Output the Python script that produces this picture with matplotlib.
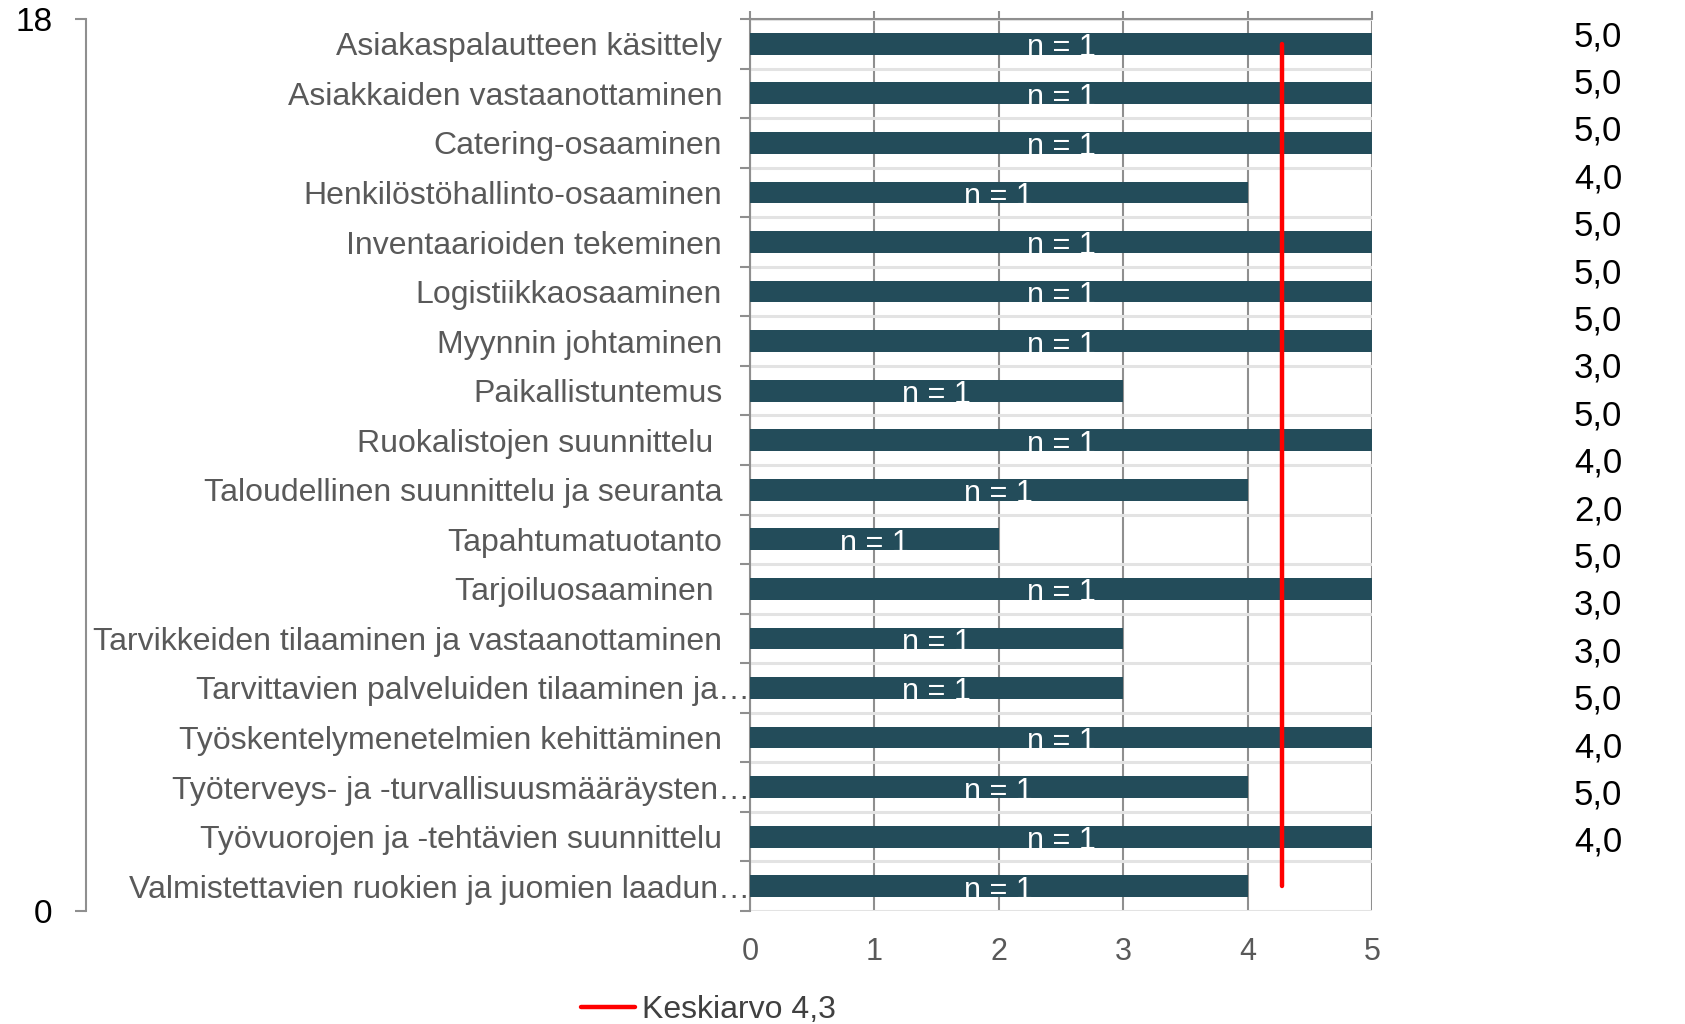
import matplotlib
matplotlib.use("Agg")
import matplotlib.pyplot as plt
import matplotlib.transforms as mtransforms
from matplotlib.ticker import MultipleLocator, FixedLocator

plt.rcParams["font.family"] = ["Liberation Sans", "DejaVu Sans"]

categories = [
    "Asiakaspalautteen käsittely",
    "Asiakkaiden vastaanottaminen",
    "Catering-osaaminen",
    "Henkilöstöhallinto-osaaminen",
    "Inventaarioiden tekeminen",
    "Logistiikkaosaaminen",
    "Myynnin johtaminen",
    "Paikallistuntemus",
    "Ruokalistojen suunnittelu ",
    "Taloudellinen suunnittelu ja seuranta",
    "Tapahtumatuotanto",
    "Tarjoiluosaaminen ",
    "Tarvikkeiden tilaaminen ja vastaanottaminen",
    "Tarvittavien palveluiden tilaaminen ja…",
    "Työskentelymenetelmien kehittäminen",
    "Työterveys- ja -turvallisuusmääräysten…",
    "Työvuorojen ja -tehtävien suunnittelu",
    "Valmistettavien ruokien ja juomien laadun…",
]
values = [5, 5, 5, 4, 5, 5, 5, 3, 5, 4, 2, 5, 3, 3, 5, 4, 5, 4]
counts = [1] * len(values)
mean_value = sum(values) / len(values)
side_axis_ticks = [0, 18]

bar_color = "#234c5a"
grid_dark = "#8f8f8f"
grid_light = "#e3e3e3"
text_gray = "#595959"

W, H = 1685, 1024
fig = plt.figure(figsize=(W / 100, H / 100), dpi=100)

# main bar chart, pixel box 750..1372 x 19..911
ax = fig.add_axes([750 / W, 1 - 911 / H, 622 / W, 892 / H])
n = len(categories)
pos = list(range(n))
ax.barh(pos, values, height=0.44, color=bar_color, zorder=3)
ax.set_xlim(0, 5)
ax.set_ylim(n - 0.5, -0.5)

for y, v, c in zip(pos, values, counts):
    ax.text(v / 2, y + 0.25, f"n = {c}", color="white", fontsize=22,
            ha="center", va="baseline", zorder=4)

ax.plot([mean_value, mean_value], [pos[0], pos[-1]], color="#ff0000",
        lw=3.2, zorder=5, solid_capstyle="round",
        label=f"Keskiarvo {mean_value:.1f}".replace(".", ","))

ax.xaxis.set_major_locator(MultipleLocator(1))
ax.tick_params(axis="x", top=True, bottom=False, labelbottom=True,
               length=6, width=1.5, color=grid_dark, labelsize=22,
               labelcolor=text_gray, pad=12.5)
ax.grid(axis="x", color=grid_dark, lw=1.5, zorder=1)

ax.set_yticks(pos)
ax.set_yticklabels(categories)
ax.yaxis.set_minor_locator(FixedLocator([p + 0.5 for p in range(-1, n)]))
ax.tick_params(axis="y", which="major", length=0, labelsize=23,
               labelcolor=text_gray, pad=20)
ax.tick_params(axis="y", which="minor", length=7, width=1.5, color=grid_dark)
ax.grid(axis="y", which="minor", color=grid_light, lw=2.2, zorder=1)

shift = mtransforms.ScaledTranslation(20 / 72, 0, fig.dpi_scale_trans)
for lab in ax.get_yticklabels():
    if lab.get_text().endswith("…"):
        lab.set_transform(lab.get_transform() + shift)

for s in ["right", "bottom"]:
    ax.spines[s].set_visible(False)
for s in ["top", "left"]:
    ax.spines[s].set_color(grid_dark)
    ax.spines[s].set_linewidth(1.5)

# side axis 0..18 on the far left
ax2 = fig.add_axes([86 / W, 1 - 911 / H, 0.001, 892 / H])
ax2.set_ylim(0, 18)
ax2.set_yticks(side_axis_ticks)
ax2.tick_params(axis="y", length=8, width=1.5, color=grid_dark,
                labelsize=24, labelcolor="black", pad=16)
ax2.set_xticks([])
for s in ["right", "bottom", "top"]:
    ax2.spines[s].set_visible(False)
ax2.spines["left"].set_color(grid_dark)
ax2.spines["left"].set_linewidth(1.5)
ax2.patch.set_visible(False)

# value column on the right
ax3 = fig.add_axes([1558 / W, 1 - 866 / H, 80 / W, 853 / H])
ax3.set_ylim(n - 0.5, -0.5)
ax3.set_xlim(0, 1)
ax3.axis("off")
for y, v in zip(pos, values):
    ax3.text(0.5, y, f"{v:.1f}".replace(".", ","), fontsize=25,
             color="black", ha="center", va="center")

leg = fig.legend(*ax.get_legend_handles_labels(), loc="center left",
                 bbox_to_anchor=(581 / W, 1 - 1010 / H), frameon=False,
                 fontsize=23, handlelength=1.7, handletextpad=0.2,
                 borderpad=0, borderaxespad=0)
for t in leg.get_texts():
    t.set_color("#404040")

fig.savefig("out.png", dpi=100)
